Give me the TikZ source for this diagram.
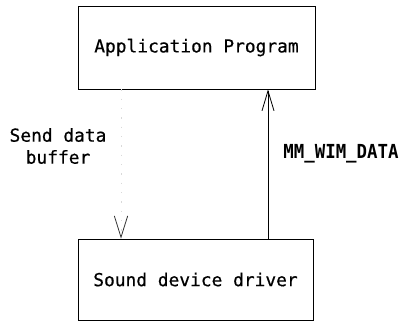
\documentclass[tikz,border=0pt]{standalone}
\usepackage{fontspec}
\setmonofont{DejaVu Sans Mono}
\newfontfamily\boxfont[FakeBold=0.6]{DejaVu Sans Mono}
\newfontfamily\labfont[FakeStretch=0.9]{DejaVu Sans Mono Bold}
\usetikzlibrary{arrows.meta}
\tikzset{
  blk/.style={draw=black, line width=0.6pt, rectangle, inner sep=0pt, font=\boxfont\fontsize{13.4pt}{15pt}\selectfont},
  conn/.style={line width=0.6pt, -{Straight Barb[length=15pt,width=9pt,line width=0.6pt]}},
  faint/.style={draw=black!15, line width=0.5pt, dash pattern=on 1pt off 6pt, -{Straight Barb[length=16pt,width=10pt,line width=0.6pt,color=black!80]}},
  lbl/.style={inner sep=0pt, font=\boxfont\fontsize{13.4pt}{16.5pt}\selectfont, align=center},
  mlbl/.style={inner sep=0pt, font=\labfont\fontsize{14.5pt}{16pt}\selectfont}
}
\begin{document}
\begin{tikzpicture}[x=0.75pt, y=-0.75pt]
  \useasboundingbox (0,0) rectangle (403,325);
  \node[blk, minimum width=177.75pt, minimum height=62.25pt] (app) at (196.5,47.5) {Application Program};
  \node[blk, minimum width=176.25pt, minimum height=60.75pt] (sdd) at (195.5,279.5) {Sound device driver};
  \coordinate (upx) at (268,0);
  \coordinate (dnx) at (121,0);
  \draw[conn] (sdd.north -| upx) -- (app.south -| upx);
  \draw[faint] (app.south -| dnx) -- (sdd.north -| dnx);
  \node[lbl] (send) at (58,146) {Send data\\buffer};
  \node[mlbl] (mm) at (341,154) {MM\_WIM\_DATA};
\end{tikzpicture}
\end{document}
